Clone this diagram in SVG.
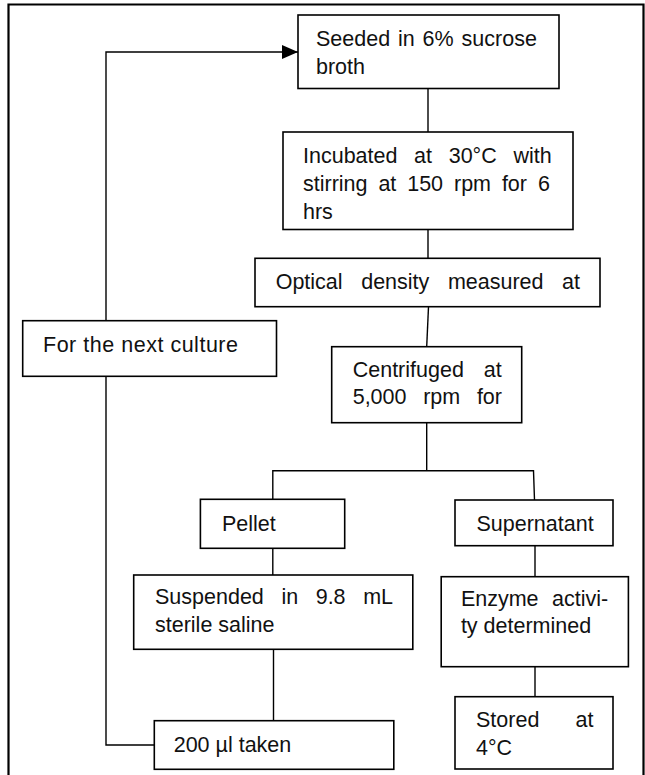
<svg xmlns="http://www.w3.org/2000/svg" width="645" height="775" viewBox="0 0 645 775">
<style>
  .box { fill: #ffffff; stroke: #000000; stroke-width: 1.6; }
  .conn { fill: none; stroke: #000000; stroke-width: 1.4; }
  .frame { fill: none; stroke: #000000; stroke-width: 2.2; }
  text { font-family: "Liberation Sans", Arial, sans-serif; font-size: 21.5px; fill: #111111; }
</style>
<defs>
  <marker id="arrow" markerUnits="userSpaceOnUse" markerWidth="18" markerHeight="16" refX="16" refY="7" orient="auto">
    <path d="M0,0 L16,7 L0,14 Z" fill="#000000"/>
  </marker>
</defs>
<rect width="645" height="775" fill="#ffffff"/>
<path class="frame" d="M8.5,775 V4.5 H643.5 V775"/>

<g id="connectors">
  <line class="conn" x1="428" y1="88.5" x2="428" y2="132"/>
  <line class="conn" x1="428" y1="229.5" x2="428" y2="258.3"/>
  <line class="conn" x1="428.5" y1="306.7" x2="426.7" y2="346.7"/>
  <line class="conn" x1="426.7" y1="422.7" x2="426.7" y2="470.7"/>
  <polyline class="conn" points="272.8,499.3 272.8,470.7 533.5,470.7 534.5,500"/>
  <line class="conn" x1="272.8" y1="548.3" x2="272.8" y2="575"/>
  <line class="conn" x1="273.5" y1="649.3" x2="273.5" y2="720.7"/>
  <line class="conn" x1="535" y1="545.7" x2="535" y2="576.7"/>
  <line class="conn" x1="535" y1="666.7" x2="535" y2="696.7"/>
  <polyline class="conn" points="154.3,745 106,745 106,52 298,52" stroke-width="1.8" marker-end="url(#arrow)"/>
</g>

<g id="seeded">
  <rect class="box" x="298" y="15" width="261" height="73.5"/>
  <text y="46"><tspan x="316">Seeded</tspan><tspan x="398">in</tspan><tspan x="422.6">6%</tspan><tspan x="461.6">sucrose</tspan></text>
  <text x="316" y="74">broth</text>
</g>

<g id="incubated">
  <rect class="box" x="283" y="132" width="290" height="97.5"/>
  <text y="162.5"><tspan x="303">Incubated</tspan><tspan x="414.1">at</tspan><tspan x="448.7">30°C</tspan><tspan x="513.4">with</tspan></text>
  <text y="190.5"><tspan x="303">stirring</tspan><tspan x="378.4">at</tspan><tspan x="407.2">150</tspan><tspan x="454">rpm</tspan><tspan x="501.9">for</tspan><tspan x="537.9">6</tspan></text>
  <text x="303" y="218.5">hrs</text>
</g>

<g id="optical">
  <rect class="box" x="255" y="258.3" width="345" height="48.4"/>
  <text y="289"><tspan x="275.7">Optical</tspan><tspan x="361.2">density</tspan><tspan x="447.9">measured</tspan><tspan x="562.1">at</tspan></text>
</g>

<g id="next-culture">
  <rect class="box" x="22.7" y="320.7" width="253.8" height="55.6"/>
  <text x="43" y="351.7" textLength="195" lengthAdjust="spacing">For the next culture</text>
</g>

<g id="centrifuged">
  <rect class="box" x="331.7" y="346.7" width="190" height="76"/>
  <text y="376.7"><tspan x="352.7">Centrifuged</tspan><tspan x="483.8">at</tspan></text>
  <text y="404"><tspan x="352.7">5,000</tspan><tspan x="423.2">rpm</tspan><tspan x="476.9">for</tspan></text>
</g>

<g id="pellet">
  <rect class="box" x="200.4" y="499.3" width="144.3" height="49"/>
  <text x="222" y="530.7">Pellet</text>
</g>

<g id="supernatant">
  <rect class="box" x="455" y="500" width="158" height="45.7"/>
  <text x="476.5" y="530.7">Supernatant</text>
</g>

<g id="suspended">
  <rect class="box" x="133.7" y="575" width="279.1" height="74.3"/>
  <text y="604"><tspan x="155">Suspended</tspan><tspan x="281.4">in</tspan><tspan x="315.7">9.8</tspan><tspan x="363.2">mL</tspan></text>
  <text x="155" y="631.7">sterile saline</text>
</g>

<g id="taken">
  <rect class="box" x="154.3" y="720.7" width="239.5" height="48.6"/>
  <text x="173.7" y="751.7">200 µl taken</text>
</g>

<g id="enzyme">
  <rect class="box" x="441.2" y="576.7" width="187.2" height="90"/>
  <text y="606"><tspan x="460.9">Enzyme</tspan><tspan x="552.1">activi-</tspan></text>
  <text x="460.9" y="632.7">ty determined</text>
</g>

<g id="stored">
  <rect class="box" x="455" y="696.7" width="158" height="72.3"/>
  <text y="726.7"><tspan x="476">Stored</tspan><tspan x="575.5">at</tspan></text>
  <text x="476" y="755">4°C</text>
</g>
</svg>
